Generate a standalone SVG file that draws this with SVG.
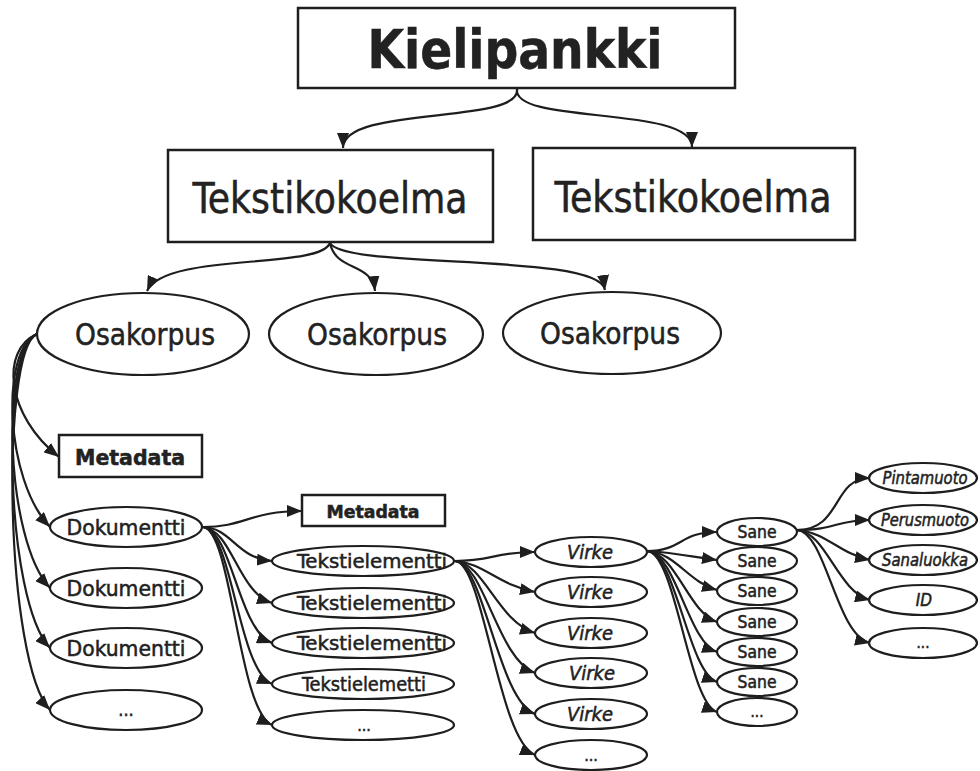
<svg xmlns="http://www.w3.org/2000/svg" width="980" height="771" viewBox="0 0 980 771">
<style>
.box{fill:#fff;stroke:#1e1e1e;stroke-width:2.5}
.ell{fill:#fff;stroke:#1e1e1e;stroke-width:2.2}
.con{fill:none;stroke:#1e1e1e;stroke-width:2.2;marker-end:url(#ah)}
text{font-family:"DejaVu Sans Condensed","DejaVu Sans","Liberation Sans",sans-serif;fill:#222;stroke:#222;stroke-width:0.5;text-anchor:middle}
.b{font-weight:bold}
.i{font-style:italic}
</style>
<defs>
<marker id="ah" markerUnits="userSpaceOnUse" markerWidth="15" markerHeight="12" refX="15" refY="6" orient="auto">
<path d="M0,0 L15,6 L0,12 z" fill="#1e1e1e"/>
</marker>
</defs>
<rect width="980" height="771" fill="#fff"/>

<g id="connectors">
<path class="con" d="M517,89 C522,125 343,105 343,148"/>
<path class="con" d="M517,89 C512,125 692,105 692,147"/>
<path class="con" d="M330,243 C320,270 165,252 147,291"/>
<path class="con" d="M330,243 C336,272 372,262 375,291"/>
<path class="con" d="M330,243 C345,270 600,252 605,290"/>
<path class="con" d="M37,334 C0,350 6,415 59,457"/>
<path class="con" d="M37,334 C0,350 5,480 50,527"/>
<path class="con" d="M37,334 C0,350 5,540 50,588"/>
<path class="con" d="M37,334 C0,350 5,600 50,648"/>
<path class="con" d="M37,334 C0,350 5,662 50,710"/>
<path class="con" d="M203,527 C245,527 250,511 302,511"/>
<path class="con" d="M203,527 C232,528 236,558 272,561"/>
<path class="con" d="M203,527 C232,530 238,592 272,603"/>
<path class="con" d="M203,527 C232,530 238,630 272,643"/>
<path class="con" d="M203,527 C232,530 238,670 272,684"/>
<path class="con" d="M203,527 C232,530 238,710 272,725"/>
<path class="con" d="M455,561 C492,561 495,552 535,552"/>
<path class="con" d="M455,561 C484,563 498,585 535,592"/>
<path class="con" d="M455,561 C484,563 498,622 535,633"/>
<path class="con" d="M455,561 C484,563 498,660 535,673"/>
<path class="con" d="M455,561 C484,563 498,700 535,714"/>
<path class="con" d="M455,561 C484,563 498,740 535,755"/>
<path class="con" d="M647,551 C682,551 680,532 717,532"/>
<path class="con" d="M647,551 C676,553 688,556 717,560"/>
<path class="con" d="M647,551 C676,553 688,582 717,590"/>
<path class="con" d="M647,551 C676,553 688,612 717,622"/>
<path class="con" d="M647,551 C676,553 688,642 717,652"/>
<path class="con" d="M647,551 C676,553 688,672 717,682"/>
<path class="con" d="M647,551 C676,553 688,702 717,712"/>
<path class="con" d="M797,530 C842,530 832,478 870,478"/>
<path class="con" d="M797,530 C836,530 836,520 870,520"/>
<path class="con" d="M797,530 C826,532 840,554 870,560"/>
<path class="con" d="M797,530 C826,532 838,592 870,600"/>
<path class="con" d="M797,530 C826,532 836,635 870,643"/>
</g>

<g id="kielipankki"><rect class="box" x="298" y="8" width="437" height="80"/><text class="b" x="515" y="68" font-size="53" textLength="295" lengthAdjust="spacingAndGlyphs">Kielipankki</text></g>
<g id="tekstikokoelma1"><rect class="box" x="168" y="150" width="325" height="92"/><text x="330" y="213" font-size="43" textLength="275" lengthAdjust="spacingAndGlyphs">Tekstikokoelma</text></g>
<g id="tekstikokoelma2"><rect class="box" x="533" y="148" width="322" height="92"/><text x="693" y="212" font-size="43" textLength="277" lengthAdjust="spacingAndGlyphs">Tekstikokoelma</text></g>

<g id="osakorpus1"><ellipse class="ell" cx="143" cy="334" rx="106" ry="41"/><text x="145" y="345" font-size="31" textLength="140" lengthAdjust="spacingAndGlyphs">Osakorpus</text></g>
<g id="osakorpus2"><ellipse class="ell" cx="376" cy="334" rx="107" ry="41"/><text x="377" y="345" font-size="31" textLength="140" lengthAdjust="spacingAndGlyphs">Osakorpus</text></g>
<g id="osakorpus3"><ellipse class="ell" cx="612" cy="333" rx="109" ry="41"/><text x="610" y="344" font-size="31" textLength="140" lengthAdjust="spacingAndGlyphs">Osakorpus</text></g>

<g id="metadata1"><rect class="box" x="59" y="435" width="143" height="42"/><text class="b" x="130" y="465" font-size="21" textLength="110" lengthAdjust="spacingAndGlyphs">Metadata</text></g>
<g id="dokumentti1"><ellipse class="ell" cx="126" cy="527" rx="76" ry="20"/><text x="126" y="535" font-size="22" textLength="119" lengthAdjust="spacingAndGlyphs">Dokumentti</text></g>
<g id="dokumentti2"><ellipse class="ell" cx="126" cy="588" rx="76" ry="20"/><text x="126" y="596" font-size="22" textLength="119" lengthAdjust="spacingAndGlyphs">Dokumentti</text></g>
<g id="dokumentti3"><ellipse class="ell" cx="126" cy="648" rx="76" ry="20"/><text x="126" y="656" font-size="22" textLength="119" lengthAdjust="spacingAndGlyphs">Dokumentti</text></g>
<g id="dokumentti4"><ellipse class="ell" cx="126" cy="710" rx="76" ry="20"/><text x="126" y="716" font-size="18">...</text></g>

<g id="metadata2"><rect class="box" x="302" y="495" width="143" height="31"/><text class="b" x="373" y="518" font-size="18" textLength="93" lengthAdjust="spacingAndGlyphs">Metadata</text></g>
<g id="tekstielementti1"><ellipse class="ell" cx="363" cy="561" rx="91" ry="15"/><text x="372" y="568" font-size="20" textLength="150" lengthAdjust="spacingAndGlyphs">Tekstielementti</text></g>
<g id="tekstielementti2"><ellipse class="ell" cx="363" cy="603" rx="91" ry="15"/><text x="372" y="610" font-size="20" textLength="150" lengthAdjust="spacingAndGlyphs">Tekstielementti</text></g>
<g id="tekstielementti3"><ellipse class="ell" cx="363" cy="643" rx="91" ry="15"/><text x="372" y="650" font-size="20" textLength="150" lengthAdjust="spacingAndGlyphs">Tekstielementti</text></g>
<g id="tekstielementti4"><ellipse class="ell" cx="363" cy="684" rx="91" ry="15"/><text x="364" y="691" font-size="20" textLength="124" lengthAdjust="spacingAndGlyphs">Tekstielemetti</text></g>
<g id="tekstielementti5"><ellipse class="ell" cx="363" cy="725" rx="91" ry="15"/><text x="364" y="731" font-size="16">...</text></g>

<g id="virke1"><ellipse class="ell" cx="591" cy="552" rx="56" ry="15"/><text class="i" x="590" y="559" font-size="19" textLength="46" lengthAdjust="spacingAndGlyphs">Virke</text></g>
<g id="virke2"><ellipse class="ell" cx="591" cy="592" rx="56" ry="15"/><text class="i" x="590" y="599" font-size="19" textLength="46" lengthAdjust="spacingAndGlyphs">Virke</text></g>
<g id="virke3"><ellipse class="ell" cx="591" cy="633" rx="56" ry="15"/><text class="i" x="590" y="640" font-size="19" textLength="46" lengthAdjust="spacingAndGlyphs">Virke</text></g>
<g id="virke4"><ellipse class="ell" cx="591" cy="673" rx="56" ry="15"/><text class="i" x="592" y="680" font-size="19" textLength="46" lengthAdjust="spacingAndGlyphs">Virke</text></g>
<g id="virke5"><ellipse class="ell" cx="591" cy="714" rx="56" ry="15"/><text class="i" x="590" y="721" font-size="19" textLength="46" lengthAdjust="spacingAndGlyphs">Virke</text></g>
<g id="virke6"><ellipse class="ell" cx="591" cy="755" rx="56" ry="15"/><text x="591" y="761" font-size="16">...</text></g>

<g id="sane1"><ellipse class="ell" cx="757" cy="532" rx="40" ry="14"/><text x="757" y="538" font-size="17" textLength="39" lengthAdjust="spacingAndGlyphs">Sane</text></g>
<g id="sane2"><ellipse class="ell" cx="757" cy="561" rx="40" ry="14"/><text x="757" y="567" font-size="17" textLength="39" lengthAdjust="spacingAndGlyphs">Sane</text></g>
<g id="sane3"><ellipse class="ell" cx="757" cy="591" rx="40" ry="14"/><text x="757" y="597" font-size="17" textLength="39" lengthAdjust="spacingAndGlyphs">Sane</text></g>
<g id="sane4"><ellipse class="ell" cx="757" cy="622" rx="40" ry="14"/><text x="757" y="628" font-size="17" textLength="39" lengthAdjust="spacingAndGlyphs">Sane</text></g>
<g id="sane5"><ellipse class="ell" cx="757" cy="652" rx="40" ry="14"/><text x="757" y="658" font-size="17" textLength="39" lengthAdjust="spacingAndGlyphs">Sane</text></g>
<g id="sane6"><ellipse class="ell" cx="757" cy="682" rx="40" ry="14"/><text x="757" y="688" font-size="17" textLength="39" lengthAdjust="spacingAndGlyphs">Sane</text></g>
<g id="sane7"><ellipse class="ell" cx="757" cy="712" rx="40" ry="14"/><text x="757" y="717" font-size="15">...</text></g>

<g id="pintamuoto"><ellipse class="ell" cx="923" cy="478" rx="54" ry="15"/><text class="i" x="925" y="484" font-size="17" textLength="85" lengthAdjust="spacingAndGlyphs">Pintamuoto</text></g>
<g id="perusmuoto"><ellipse class="ell" cx="923" cy="520" rx="54" ry="15"/><text class="i" x="925" y="526" font-size="17" textLength="88" lengthAdjust="spacingAndGlyphs">Perusmuoto</text></g>
<g id="sanaluokka"><ellipse class="ell" cx="923" cy="560" rx="54" ry="15"/><text class="i" x="925" y="566" font-size="17" textLength="86" lengthAdjust="spacingAndGlyphs">Sanaluokka</text></g>
<g id="id"><ellipse class="ell" cx="923" cy="600" rx="54" ry="15"/><text class="i" x="924" y="606" font-size="17">ID</text></g>
<g id="more"><ellipse class="ell" cx="923" cy="643" rx="54" ry="15"/><text x="923" y="648" font-size="15">...</text></g>
</svg>
